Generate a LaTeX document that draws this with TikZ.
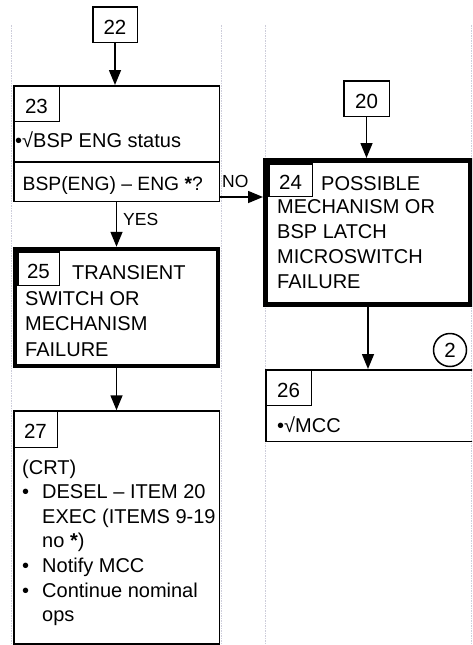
\documentclass[tikz,border=0pt]{standalone}
\usepackage{fontspec}
\setmainfont{Liberation Sans}
\usetikzlibrary{arrows.meta}
\begin{document}
\begin{tikzpicture}[x=1pt,y=-1pt,
  box/.style={draw, line width=1.5pt, inner sep=0pt},
  heavybox/.style={draw, line width=4.5pt, inner sep=0pt},
  numbox/.style={draw, line width=1.5pt, inner sep=0pt, font=\fontsize{20.5}{24}\selectfont, text height=19pt, text depth=0pt},
  txt/.style={inner sep=0pt, anchor=base west, font=\fontsize{20}{24}\selectfont},
  lbl/.style={inner sep=0pt, anchor=base west, font=\fontsize{17.5}{20}\selectfont},
  arr/.style={line width=1.5pt, -{Triangle[width=12pt,length=15pt]}},
  guide/.style={draw={rgb,255:red,205;green,205;blue,218}, line width=1pt, dash pattern=on 1.5pt off 1pt}
]
\useasboundingbox (0,0) rectangle (472,645);
\clip (0,0) rectangle (472,645);
\fill[white] (0,0) rectangle (472,645);
% guides
\draw[guide] (11,25) -- (11,645);
\draw[guide] (221,25) -- (221,645);
\draw[guide] (265,25) -- (265,645);
\draw[guide] (471,25) -- (471,645);
% left column
\node[numbox, minimum width=44.5pt, minimum height=35.5pt] (b22) at (115,24.5) {22};
\node[box, minimum width=205.5pt, minimum height=115.5pt] (b23) at (116.5,143.5) {};
\node[numbox, anchor=north west, minimum width=45.5pt, minimum height=35.5pt] (n23) at (b23.north west) {23};
\coordinate (dv) at (0,162);
\draw[line width=1.5pt] (b23.west |- dv) -- (b23.east |- dv);
\node[txt] (t23a) at (15,147) {•√BSP ENG status};
\node[txt, font=\fontsize{19.3}{24}\selectfont] (t23b) at (22.5,190) {BSP(ENG) – ENG {\bfseries *}?};

\node[heavybox, minimum width=203pt, minimum height=117pt] (b25) at (116.5,307.5) {};
\node[numbox, anchor=north west, minimum width=41.5pt, minimum height=33.5pt] (n25) at (17,251) {25};
\node[txt] (t25a) at (72,279) {TRANSIENT};
\node[txt] (t25b) at (25,305) {SWITCH OR};
\node[txt] (t25c) at (25,330.5) {MECHANISM};
\node[txt] (t25d) at (25,356) {FAILURE};

\node[box, minimum width=205.5pt, minimum height=233pt] (b27) at (116.5,527.5) {};
\node[numbox, anchor=north west, minimum width=43.5pt, minimum height=36.5pt] (n27) at (b27.north west) {27};
\node[txt] (t27a) at (22,474) {(CRT)};
\node[txt] (k27a) at (22,498.5) {•};
\node[txt] (t27b) at (42,498.5) {DESEL – ITEM 20};
\node[txt] (t27c) at (42,523) {EXEC (ITEMS 9-19};
\node[txt] (t27d) at (42,547.5) {no {\bfseries *})};
\node[txt] (k27b) at (22,572.5) {•};
\node[txt] (t27e) at (42,572.5) {Notify MCC};
\node[txt] (k27c) at (22,597.5) {•};
\node[txt] (t27f) at (42,597.5) {Continue nominal};
\node[txt] (t27g) at (42,621.5) {ops};

% right column
\node[numbox, minimum width=45.5pt, minimum height=35.5pt] (b20) at (366.5,98.5) {20};
\node[draw, line width=5pt, inner sep=0pt, minimum width=205pt, minimum height=144pt] (b24) at (368,232.5) {};
\node[numbox, anchor=north west, minimum width=43.5pt, minimum height=32.5pt] (n24) at (268,163) {24};
\node[txt] (t24a) at (321,190) {POSSIBLE};
\node[txt] (t24b) at (277,213.5) {MECHANISM OR};
\node[txt] (t24c) at (277,238) {BSP LATCH};
\node[txt] (t24d) at (277,263) {MICROSWITCH};
\node[txt] (t24e) at (277,288) {FAILURE};

\node[box, minimum width=214pt, minimum height=71.5pt] (b26) at (372.75,405.5) {};
\node[numbox, anchor=north west, minimum width=45.5pt, minimum height=35.5pt] (n26) at (b26.north west) {26};
\node[txt] (t26) at (277,432) {•√MCC};
\node[circle, draw, line width=1.5pt, inner sep=0pt, minimum size=33pt, font=\fontsize{20.5}{24}\selectfont] (c2) at (450,350) {2};

% connectors
\coordinate (ny) at (0,197);
\draw[arr] (b22.south) -- (b22.south |- b23.north);
\draw[arr] (b23.south) -- (b23.south |- b25.north);
\draw[arr] (b23.east |- ny) -- (b24.west |- ny);
\draw[arr] (b25.south) -- (b25.south |- b27.north);
\draw[arr] (b20.south) -- (b20.south |- b24.north);
\draw[arr] (b24.south) -- (b24.south |- b26.north);
\node[lbl] (lno) at (222,187) {NO};
\node[lbl] (lyes) at (123,225) {YES};
\end{tikzpicture}
\end{document}
